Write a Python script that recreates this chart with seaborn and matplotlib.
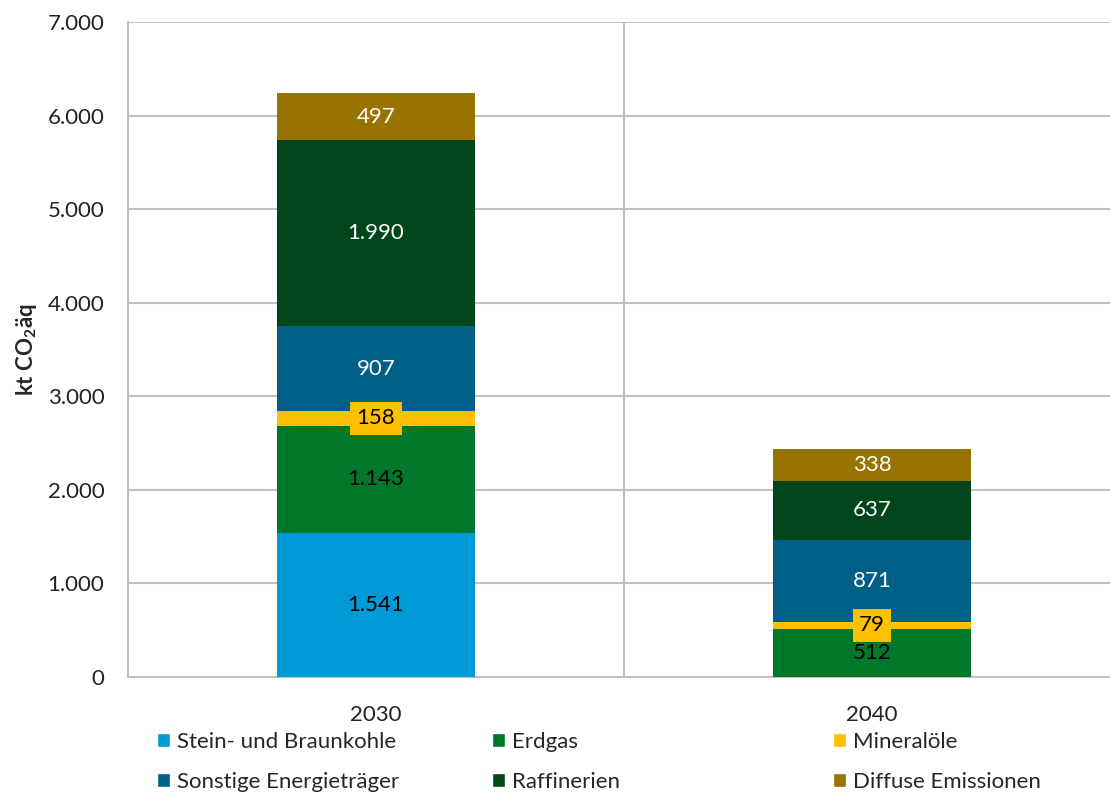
import numpy as np
import pandas as pd
import seaborn as sns
import matplotlib.pyplot as plt
from matplotlib.patches import Patch

# daten
jahre = ['2030', '2040']
kategorien = ['Stein- und Braunkohle', 'Erdgas', 'Mineralöle',
              'Sonstige Energieträger', 'Raffinerien', 'Diffuse Emissionen']
stein = [1541, 0]
erdgas = [1143, 512]
mineraloele = [158, 79]
sonstige = [907, 871]
raffinerien = [1990, 637]
diffuse = [497, 338]

farben = ['#009ad6', '#00782b', '#ffc000', '#005f87', '#00461a', '#997300']
textfarben = ['black', 'black', 'black', 'white', 'white', 'white']

sns.set_theme(style='white')
plt.rcParams['font.family'] = ['Lato', 'DejaVu Sans']
plt.rcParams['mathtext.default'] = 'regular'

fs = 16
fig = plt.figure(figsize=(11.1, 7.92), dpi=100)
ax = fig.add_axes([128 / 1110, 115 / 792, 992 / 1110, 655 / 792])

werte = [stein, erdgas, mineraloele, sonstige, raffinerien, diffuse]
df = pd.DataFrame(dict(zip(kategorien, werte)), index=jahre)

unten = np.zeros(len(jahre))
for i, kat in enumerate(kategorien):
    sns.barplot(x=jahre, y=df[kat].values, bottom=unten, color=farben[i],
                width=0.4, ax=ax, saturation=1, linewidth=0, zorder=3)
    for j, v in enumerate(df[kat].values):
        if v <= 0:
            continue
        txt = f'{v:,}'.replace(',', '.')
        if kat == 'Mineralöle':
            ax.text(j, unten[j] + v / 2, txt, ha='center', va='center',
                    fontsize=fs, color='black', zorder=5,
                    bbox=dict(boxstyle='square,pad=0.28', fc=farben[i], ec='none'))
        else:
            ax.text(j, unten[j] + v / 2, txt, ha='center', va='center',
                    fontsize=fs, color=textfarben[i], zorder=5)
    unten = unten + df[kat].values

ax.set_ylim(0, 7000)
ax.set_xlim(-0.5, 1.5)
ax.set_yticks(np.arange(0, 7001, 1000))
ax.set_yticklabels([f'{int(t):,}'.replace(',', '.') for t in np.arange(0, 7001, 1000)],
                   fontsize=fs, color='#222222')
ax.tick_params(axis='x', labelsize=fs, colors='#222222', length=0, pad=20)
ax.tick_params(axis='y', length=0, pad=17)

# gitter
for y in np.arange(1000, 7001, 1000):
    ax.axhline(y, color='#c0c0c0', lw=1.5, zorder=1)
for x in [0.5, 1.5]:
    ax.axvline(x, color='#c0c0c0', lw=1.5, zorder=1)
for s in ['top', 'right']:
    ax.spines[s].set_visible(False)
for s in ['left', 'bottom']:
    ax.spines[s].set_color('#c0c0c0')
    ax.spines[s].set_linewidth(1.5)

ax.set_xlabel('')
ax.set_ylabel(r'kt CO$_2$äq', fontsize=fs, fontweight='bold', labelpad=6)

# legende: drei spalten, je zwei zeilen
spalten = [(0, 3), (1, 4), (2, 5)]
x_pos = [157, 492, 833]
for (a, b), xp in zip(spalten, x_pos):
    h = [Patch(facecolor=farben[k], label=kategorien[k]) for k in (a, b)]
    fig.legend(handles=h, loc='upper left', bbox_to_anchor=(xp / 1110, 1 - 732 / 792),
               ncol=1, frameon=False, fontsize=fs, handlelength=0.6, handleheight=0.6,
               handletextpad=0.3, labelspacing=0.9, borderpad=0, borderaxespad=0)

fig.savefig('out.png', dpi=100)
